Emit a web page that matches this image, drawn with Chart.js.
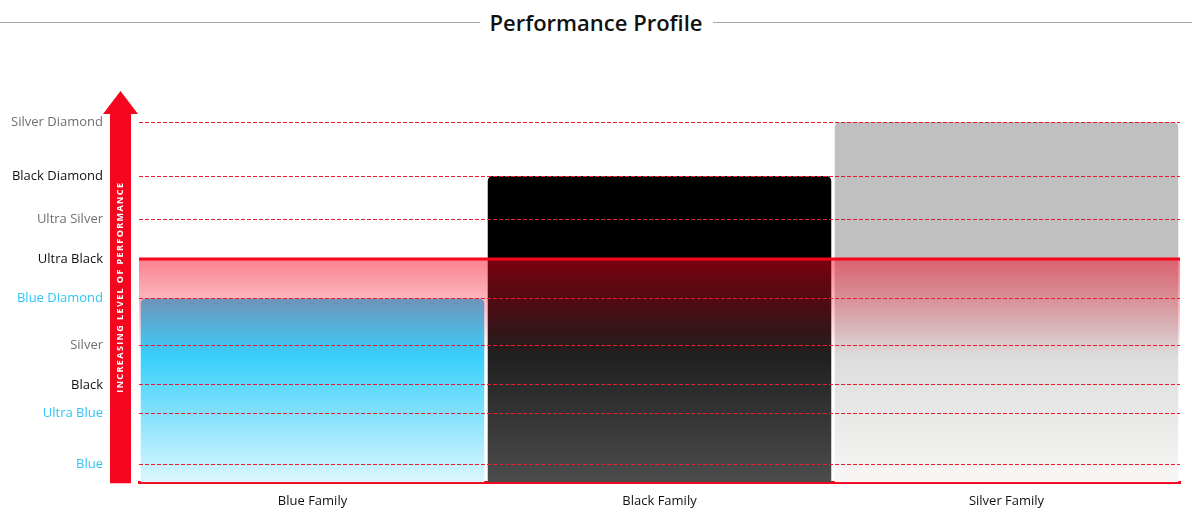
<!DOCTYPE html>
<html>
<head>
<meta charset="utf-8">
<title>Performance Profile</title>
<script src="https://cdn.jsdelivr.net/npm/chart.js@4.4.1/dist/chart.umd.min.js"></script>
<style>
    html, body { margin: 0; padding: 0; background: #fff; }
    body { width: 1192px; height: 522px; position: relative; overflow: hidden; font-family: "Open Sans", "Noto Sans", sans-serif; }
    .heading { position: absolute; top: 8px; left: 0; right: 0; display: flex; align-items: center; }
    .heading::before, .heading::after { content: ""; flex: 1; height: 1px; background: #a8a8a8; }
    .heading h1 { margin: 0 10px; font-size: 22px; font-weight: 600; color: #111; line-height: 28px; }
    #chartWrap { position: absolute; left: 0; top: 0; width: 1192px; height: 526px; }
</style>
</head>
<body>
<div class="heading"><h1>Performance Profile</h1></div>
<div id="chartWrap"><canvas id="perfChart"></canvas></div>
<script>
// Performance levels on the y axis (bottom to top) and where they sit
const levelNames = ['Blue', 'Ultra Blue', 'Black', 'Silver', 'Blue Diamond', 'Ultra Black', 'Ultra Silver', 'Black Diamond', 'Silver Diamond'];
const levelValues = [5, 19, 27, 38, 51, 62, 73, 85, 100];

// Product families and their top level reached
const families = ['Blue Family', 'Black Family', 'Silver Family'];
const familyScores = [51, 85, 100];

// Level marked with the solid red line, and where the red glow fades out
const thresholdLevel = 62;
const fadeLevel = 35;

const RED = '#f5051e';
const labelColors = { Blue: '#2ec5f5', Black: '#111111', Silver: '#707070' };
const barStops = [
    ['#38cffb', '#38cffb', '#dcf7fe'],
    ['#000000', '#202020', '#4c4c4c'],
    ['#c0c0c0', '#dcdcdc', '#f8f7f5']
];

function labelFor(value) {
    const i = levelValues.indexOf(value);
    return i >= 0 ? levelNames[i] : '';
}

// Label colour follows the family word in the level name
function colorFor(value) {
    const name = labelFor(value);
    const fam = Object.keys(labelColors).find(k => name.includes(k));
    return labelColors[fam] || '#111';
}

// Build a vertical gradient for each bar, anchored to the y scale
function barGradient(context) {
    const chart = context.chart;
    const area = chart.chartArea;
    if (!area) return barStops[context.dataIndex][0];
    const y = chart.scales.y;
    const stops = barStops[context.dataIndex];
    const h = area.bottom - area.top;
    const g = chart.ctx.createLinearGradient(0, area.top, 0, area.bottom);
    const t1 = (y.getPixelForValue(thresholdLevel) - area.top) / h;
    const t2 = (y.getPixelForValue(fadeLevel) - area.top) / h;
    g.addColorStop(0, stops[0]);
    g.addColorStop(t1, stops[0]);
    g.addColorStop(t2, stops[1]);
    g.addColorStop(1, stops[2]);
    return g;
}

// Red glow band under the threshold line, drawn over the bars
const glowPlugin = {
    id: 'glow',
    afterDatasetsDraw(chart) {
        const { ctx, chartArea: a, scales: { y } } = chart;
        const top = y.getPixelForValue(thresholdLevel);
        const bottom = y.getPixelForValue(fadeLevel);
        const g = ctx.createLinearGradient(0, top, 0, bottom);
        g.addColorStop(0, 'rgba(245, 5, 30, 0.5)');
        g.addColorStop(1, 'rgba(245, 5, 30, 0)');
        ctx.save();
        ctx.fillStyle = g;
        ctx.fillRect(a.left, top, a.right - a.left, bottom - top);
        ctx.restore();
    },
    afterDraw(chart) {
        const { ctx, chartArea: a, scales: { y } } = chart;
        const ty = y.getPixelForValue(thresholdLevel);
        ctx.save();
        ctx.strokeStyle = RED;
        ctx.lineWidth = 3;
        ctx.beginPath();
        ctx.moveTo(a.left, ty);
        ctx.lineTo(a.right, ty);
        ctx.stroke();

        // Arrow along the y axis
        const l = a.left;
        ctx.fillStyle = RED;
        ctx.beginPath();
        ctx.moveTo(l - 29, a.bottom + 1);
        ctx.lineTo(l - 29, a.top - 8);
        ctx.lineTo(l - 36, a.top - 8);
        ctx.lineTo(l - 18.5, a.top - 31);
        ctx.lineTo(l - 1, a.top - 8);
        ctx.lineTo(l - 8, a.top - 8);
        ctx.lineTo(l - 8, a.bottom + 1);
        ctx.closePath();
        ctx.fill();

        ctx.translate(l - 18.5, a.bottom - 195);
        ctx.rotate(-Math.PI / 2);
        ctx.fillStyle = '#fff';
        ctx.font = 'bold 9px "Open Sans", sans-serif';
        ctx.letterSpacing = '1.4px';
        ctx.textAlign = 'center';
        ctx.textBaseline = 'middle';
        ctx.fillText('INCREASING LEVEL OF PERFORMANCE', 0, 0);
        ctx.restore();
    }
};

const ctx = document.getElementById('perfChart').getContext('2d');
new Chart(ctx, {
    type: 'bar',
    data: {
        labels: families,
        datasets: [{
            data: familyScores,
            backgroundColor: barGradient,
            borderRadius: { topLeft: 5, topRight: 5 },
            borderSkipped: 'start',
            barPercentage: 0.99,
            categoryPercentage: 1
        }]
    },
    options: {
        responsive: true,
        maintainAspectRatio: false,
        animation: false,
        layout: { padding: { top: 122, right: 12, bottom: 0, left: 0 } },
        plugins: {
            legend: { display: false },
            tooltip: { enabled: false }
        },
        scales: {
            x: {
                afterFit: scale => { scale.height = 40; },
                grid: { display: false, drawTicks: false },
                border: { display: true, color: RED, width: 3 },
                ticks: { color: '#111', padding: 11, font: { family: '"Open Sans", sans-serif', size: 13 } }
            },
            y: {
                min: 0,
                max: 100,
                afterBuildTicks: scale => {
                    scale.ticks = levelValues.map(v => ({ value: v }));
                },
                afterFit: scale => { scale.width = 139; },
                grid: {
                    z: 1,
                    drawTicks: false,
                    lineWidth: 1,
                    color: c => (c.tick && c.tick.value === thresholdLevel) ? 'rgba(0,0,0,0)' : '#ee1a30'
                },
                border: { display: false, dash: [4, 2] },
                ticks: {
                    padding: 36,
                    autoSkip: false,
                    callback: value => labelFor(value),
                    color: c => colorFor(c.tick.value),
                    font: { family: '"Open Sans", sans-serif', size: 13 }
                }
            }
        }
    },
    plugins: [glowPlugin]
});
</script>
</body>
</html>
